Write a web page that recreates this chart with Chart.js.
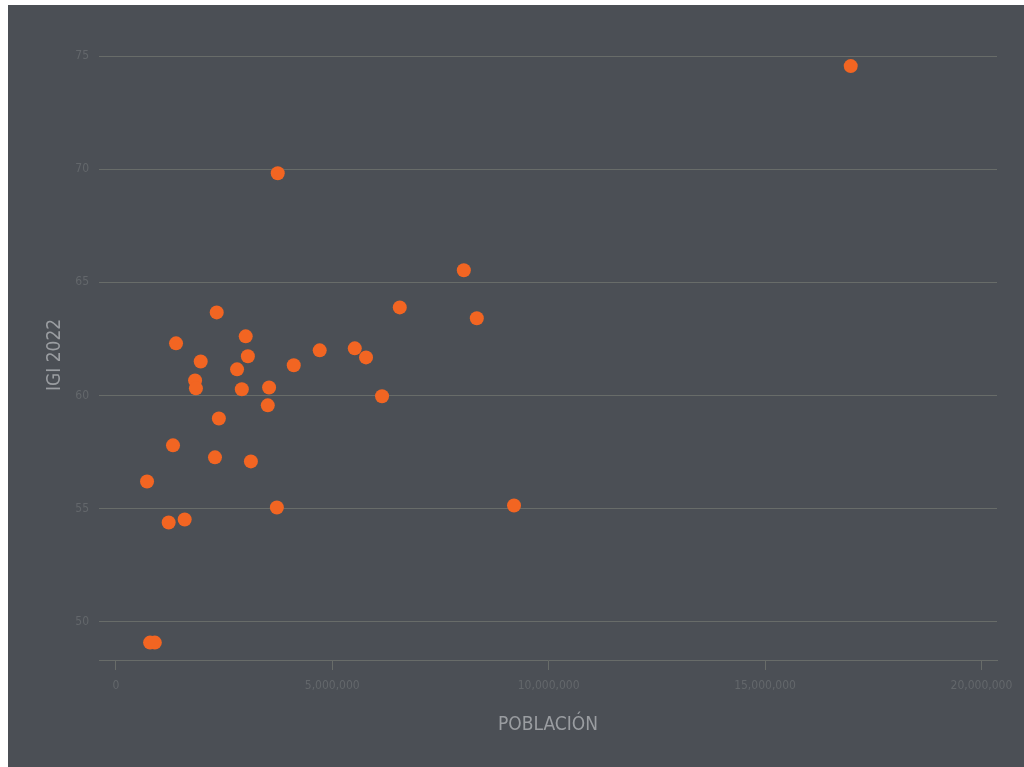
<!DOCTYPE html>
<html>
<head>
<meta charset="utf-8">
<script src="https://cdn.jsdelivr.net/npm/chart.js@4"></script>
<style>
  html, body { margin: 0; padding: 0; background: #ffffff; }
  #wrap { position: absolute; left: 8px; top: 5px; width: 1016px; height: 762px; background: #4b4f55; }
</style>
</head>
<body>
<div id="wrap"><canvas id="myChart"></canvas></div>
<script>
// data
var poblacion = [16980000, 3740000, 8040000, 6560000, 8340000, 2330000, 3000000, 1390000,
  4710000, 5520000, 5780000, 3050000, 1960000, 4110000, 2800000, 1830000, 1850000, 3540000,
  2910000, 6150000, 3510000, 2380000, 1320000, 2290000, 3120000, 720000, 3720000, 9200000,
  1220000, 1590000, 790000, 900000];
var igi = [74.56, 69.82, 65.53, 63.89, 63.41, 63.67, 62.61, 62.3,
  61.99, 62.08, 61.68, 61.73, 61.5, 61.33, 61.15, 60.66, 60.31, 60.35,
  60.27, 59.96, 59.56, 58.98, 57.79, 57.26, 57.08, 56.19, 55.04, 55.13,
  54.38, 54.51, 49.07, 49.07];
var xTickValues = [0, 5000000, 10000000, 15000000, 20000000];
var yTickValues = [50, 55, 60, 65, 70, 75];
var xTitle = 'POBLACIÓN';
var yTitle = 'IGI 2022';

var gridColor = '#686c69';
var tickColor = '#63676b';
var titleColor = '#9a9da1';
var fontFam = "'Liberation Sans Narrow', 'DejaVu Sans Condensed', sans-serif";

Chart.defaults.font.family = fontFam;

var points = poblacion.map(function (p, i) { return { x: p, y: igi[i] }; });

// y title drawn by hand so it sits where the original has it
var yTitlePlugin = {
  id: 'yTitle',
  afterDraw: function (chart) {
    var c = chart.ctx;
    c.save();
    c.translate(47, 350);
    c.rotate(-Math.PI / 2);
    c.font = '19px ' + fontFam;
    c.fillStyle = titleColor;
    c.textAlign = 'center';
    c.textBaseline = 'middle';
    c.fillText(yTitle, 0, 0);
    c.restore();
  }
};

var ctx = document.getElementById('myChart').getContext('2d');
var chart = new Chart(ctx, {
  type: 'scatter',
  data: {
    datasets: [{
      data: points,
      backgroundColor: '#f26522',
      borderWidth: 0,
      pointRadius: 7,
      pointHoverRadius: 7
    }]
  },
  options: {
    responsive: true,
    maintainAspectRatio: false,
    animation: false,
    events: [],
    layout: { padding: { top: 15, right: 27, left: 0, bottom: 0 } },
    plugins: { legend: { display: false }, tooltip: { enabled: false } },
    scales: {
      x: {
        type: 'linear',
        min: -390000,
        max: 20360000,
        afterFit: function (s) { s.height = 107; },
        afterBuildTicks: function (s) { s.ticks = xTickValues.map(function (v) { return { value: v }; }); },
        border: { display: true, color: gridColor, width: 1 },
        grid: { drawOnChartArea: false, drawTicks: true, tickLength: 10, color: gridColor, tickColor: gridColor },
        ticks: {
          color: tickColor,
          font: { size: 12 },
          padding: 9,
          maxRotation: 0,
          callback: function (v) { return v.toLocaleString('en-US'); }
        },
        title: {
          display: true,
          text: xTitle,
          color: titleColor,
          font: { size: 19 },
          padding: { top: 0, bottom: 31 }
        }
      },
      y: {
        type: 'linear',
        min: 48.3,
        max: 76.5,
        afterFit: function (s) { s.width = 91; },
        afterBuildTicks: function (s) { s.ticks = yTickValues.map(function (v) { return { value: v }; }); },
        border: { display: false },
        grid: { color: gridColor, drawTicks: false, lineWidth: 1 },
        ticks: { color: tickColor, font: { size: 12 }, padding: 10 }
      }
    }
  },
  plugins: [yTitlePlugin]
});
</script>
</body>
</html>
